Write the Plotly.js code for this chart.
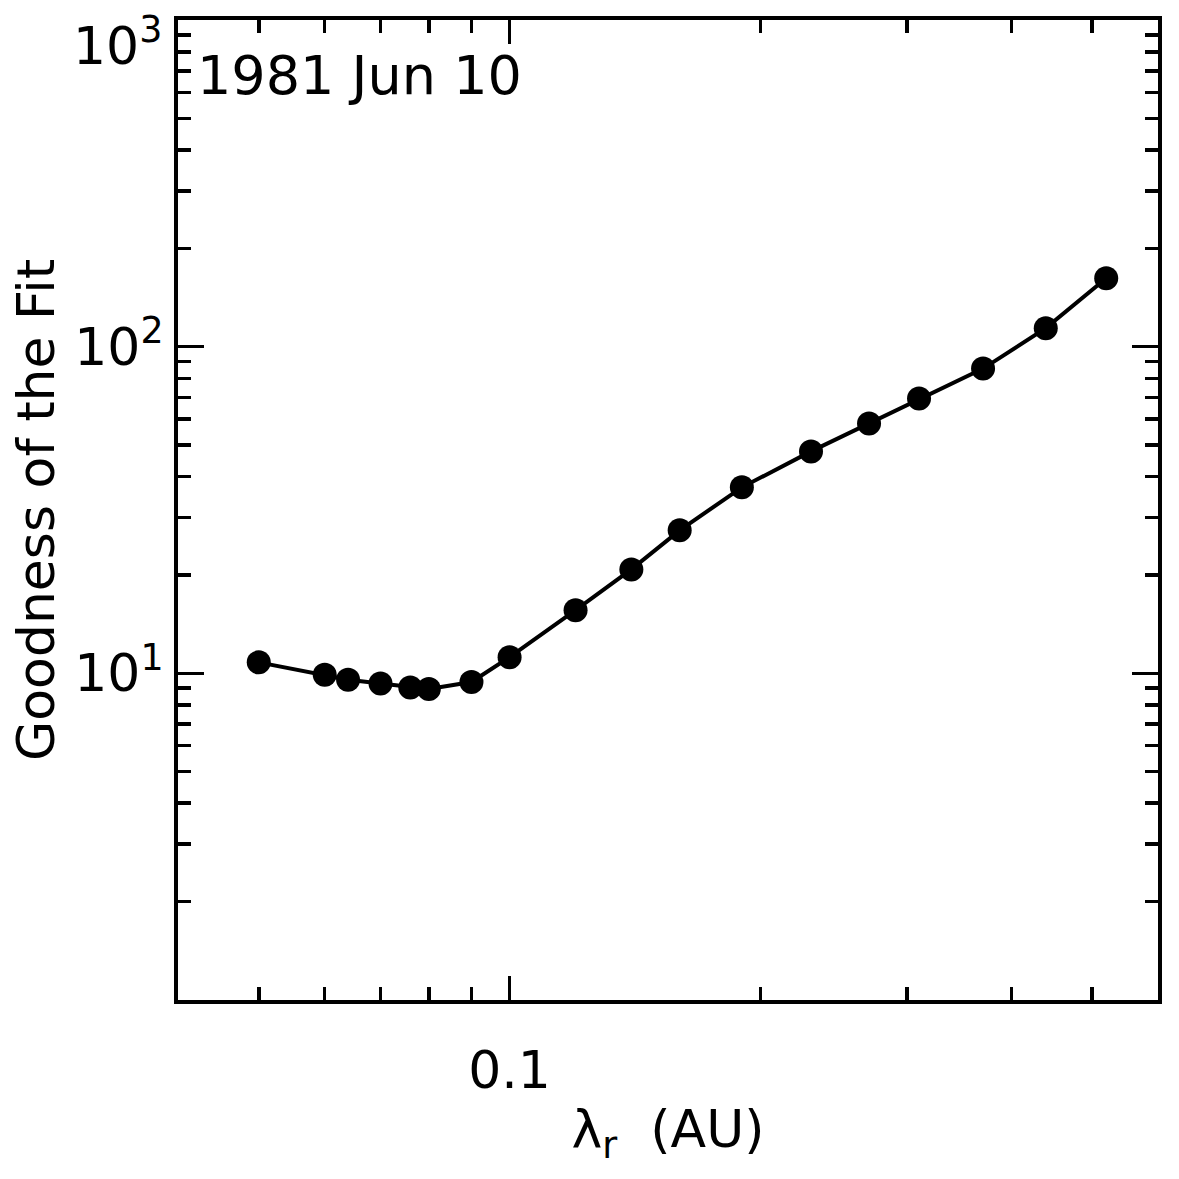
<!DOCTYPE html>
<html>
<head>
<meta charset="utf-8">
<script src="https://cdn.plot.ly/plotly-3.0.1.min.js"></script>
<style>
  html, body { margin: 0; padding: 0; background: #fff; }
  #chart { width: 1179px; height: 1179px; }
</style>
</head>
<body>
<div id="chart"></div>
<script>
// mean free path (AU) vs goodness of the fit
var lambdaR = [0.05, 0.06, 0.064, 0.07, 0.076, 0.08, 0.09, 0.1, 0.12, 0.14,
               0.16, 0.19, 0.23, 0.27, 0.31, 0.37, 0.44, 0.52];
var goodness = [10.8, 9.9, 9.55, 9.3, 9.05, 8.95, 9.4, 11.2, 15.6, 20.8,
                27.4, 37.1, 47.8, 58.2, 69.4, 85.7, 114, 162];

var xMajorVals = [0.1];
var xMajorText = ["0.1"];
var xMinorVals = [0.05, 0.06, 0.07, 0.08, 0.09, 0.2, 0.3, 0.4, 0.5];

var yMajorVals = [10, 100, 1000];
var yMajorText = ["10<sup>1</sup>", "10<sup>2</sup>", ""];
// the 10^3 label sits on the frame edge; plotly hides it there, so it is
// placed as an annotation at that tick, nudged down like the original
var yTopVal = 1000;
var yTopText = "10<sup>3</sup>";
var yMinorVals = [2, 3, 4, 5, 6, 7, 8, 9,
                  20, 30, 40, 50, 60, 70, 80, 90,
                  200, 300, 400, 500, 600, 700, 800, 900];

var dateLabel = "1981 Jun 10";

var FONT = "DejaVu Sans, Liberation Sans, sans-serif";

var data = [
  {
    x: lambdaR,
    y: goodness,
    type: "scatter",
    mode: "lines+markers",
    line: { color: "black", width: 4 },
    marker: { color: "black", size: 24 },
    showlegend: false,
  },
];

var layout = {
  width: 1179,
  height: 1179,
  margin: { l: 178, r: 21, t: 20, b: 179 },
  paper_bgcolor: "white",
  plot_bgcolor: "white",
  font: { family: FONT, size: 52, color: "black" },
  xaxis: {
    type: "log",
    range: [Math.log10(0.04), Math.log10(0.6)],
    tickmode: "array",
    tickvals: xMajorVals,
    ticktext: xMajorText,
    ticks: "inside",
    ticklen: 24,
    tickwidth: 3.5,
    tickcolor: "black",
    ticklabelstandoff: 22,
    minor: {
      tickmode: "array",
      tickvals: xMinorVals,
      ticks: "inside",
      ticklen: 13,
      tickwidth: 3.5,
      tickcolor: "black",
      showgrid: false,
    },
    showline: true,
    linewidth: 4,
    linecolor: "black",
    mirror: "ticks",
    showgrid: false,
    zeroline: false,
    automargin: false,
    title: {
      text: "λ<sub>r</sub>  (AU)",
      font: { family: FONT, size: 52, color: "black" },
      standoff: 12,
    },
  },
  yaxis: {
    type: "log",
    range: [-0.0005, 3.0005],
    tickmode: "array",
    tickvals: yMajorVals,
    ticktext: yMajorText,
    ticks: "inside",
    ticklen: 26,
    tickwidth: 3.5,
    tickcolor: "black",
    ticklabelstandoff: 0,
    minor: {
      tickmode: "array",
      tickvals: yMinorVals,
      ticks: "inside",
      ticklen: 13,
      tickwidth: 3.5,
      tickcolor: "black",
      showgrid: false,
    },
    showline: true,
    linewidth: 4,
    linecolor: "black",
    mirror: "ticks",
    showgrid: false,
    zeroline: false,
    automargin: false,
    title: {
      text: "Goodness of the Fit",
      font: { family: FONT, size: 52, color: "black" },
      standoff: 4,
    },
  },
  annotations: [
    {
      text: dateLabel,
      xref: "paper",
      yref: "paper",
      x: 0.017,
      y: 0.943,
      xanchor: "left",
      yanchor: "middle",
      showarrow: false,
      font: { family: FONT, size: 54, color: "black" },
    },
    {
      text: yTopText,
      xref: "paper",
      yref: "y",
      x: 0,
      y: Math.log10(yTopVal),
      xanchor: "right",
      yanchor: "middle",
      xshift: -14,
      yshift: -22,
      showarrow: false,
      font: { family: FONT, size: 52, color: "black" },
    },
  ],
};

Plotly.newPlot("chart", data, layout, { staticPlot: true });
</script>
</body>
</html>
